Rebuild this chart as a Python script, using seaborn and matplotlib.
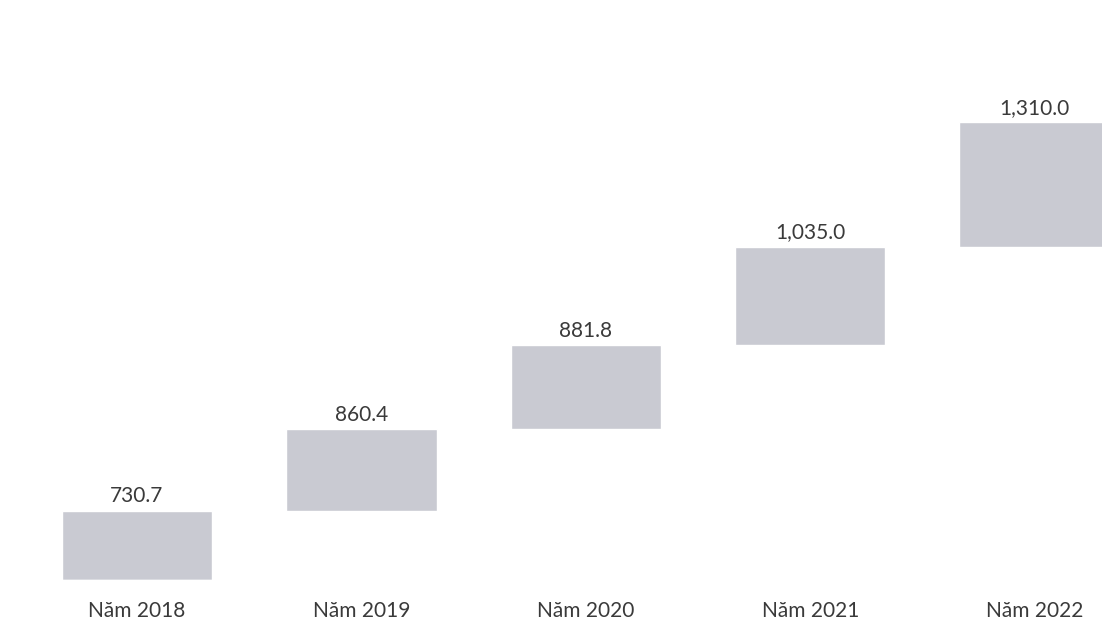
import matplotlib
matplotlib.use("Agg")
import matplotlib.pyplot as plt
import numpy as np
import pandas as pd
import seaborn as sns

sns.set_theme(style="white")
plt.rcParams["font.family"] = ["Lato", "DejaVu Sans"]

years = ["Năm 2018", "Năm 2019", "Năm 2020", "Năm 2021", "Năm 2022"]
values = [730.7, 860.4, 881.8, 1035.0, 1310.0]

# floating bars: each one starts where the previous one ends
tops = np.cumsum(values)
bottoms = tops - np.array(values)
df = pd.DataFrame({"year": years, "top": tops, "bottom": bottoms})

fig = plt.figure(figsize=(11.02, 6.44), dpi=100)
ax = fig.add_axes([0, 0.0839, 1, 0.9161])

sns.barplot(data=df, x="year", y="top", color="#c9cad2", saturation=1,
            width=0.67, ax=ax)
sns.barplot(data=df, x="year", y="bottom", color="white", saturation=1,
            width=0.69, ax=ax)

labels = [f"{v:,.1f}" for v in values]
ax.bar_label(ax.containers[0], labels=labels, padding=3, fontsize=15,
             color="#3a3a3a")

ax.set_xlim(-0.61, 4.30)
ax.set_ylim(-105, 6101)
ax.set_xlabel("")
ax.set_ylabel("")
ax.set_yticks([])
ax.tick_params(axis="x", length=0, pad=8, labelsize=15, labelcolor="#3a3a3a")
sns.despine(ax=ax, left=True, bottom=True)

fig.savefig("out.png", dpi=100)
